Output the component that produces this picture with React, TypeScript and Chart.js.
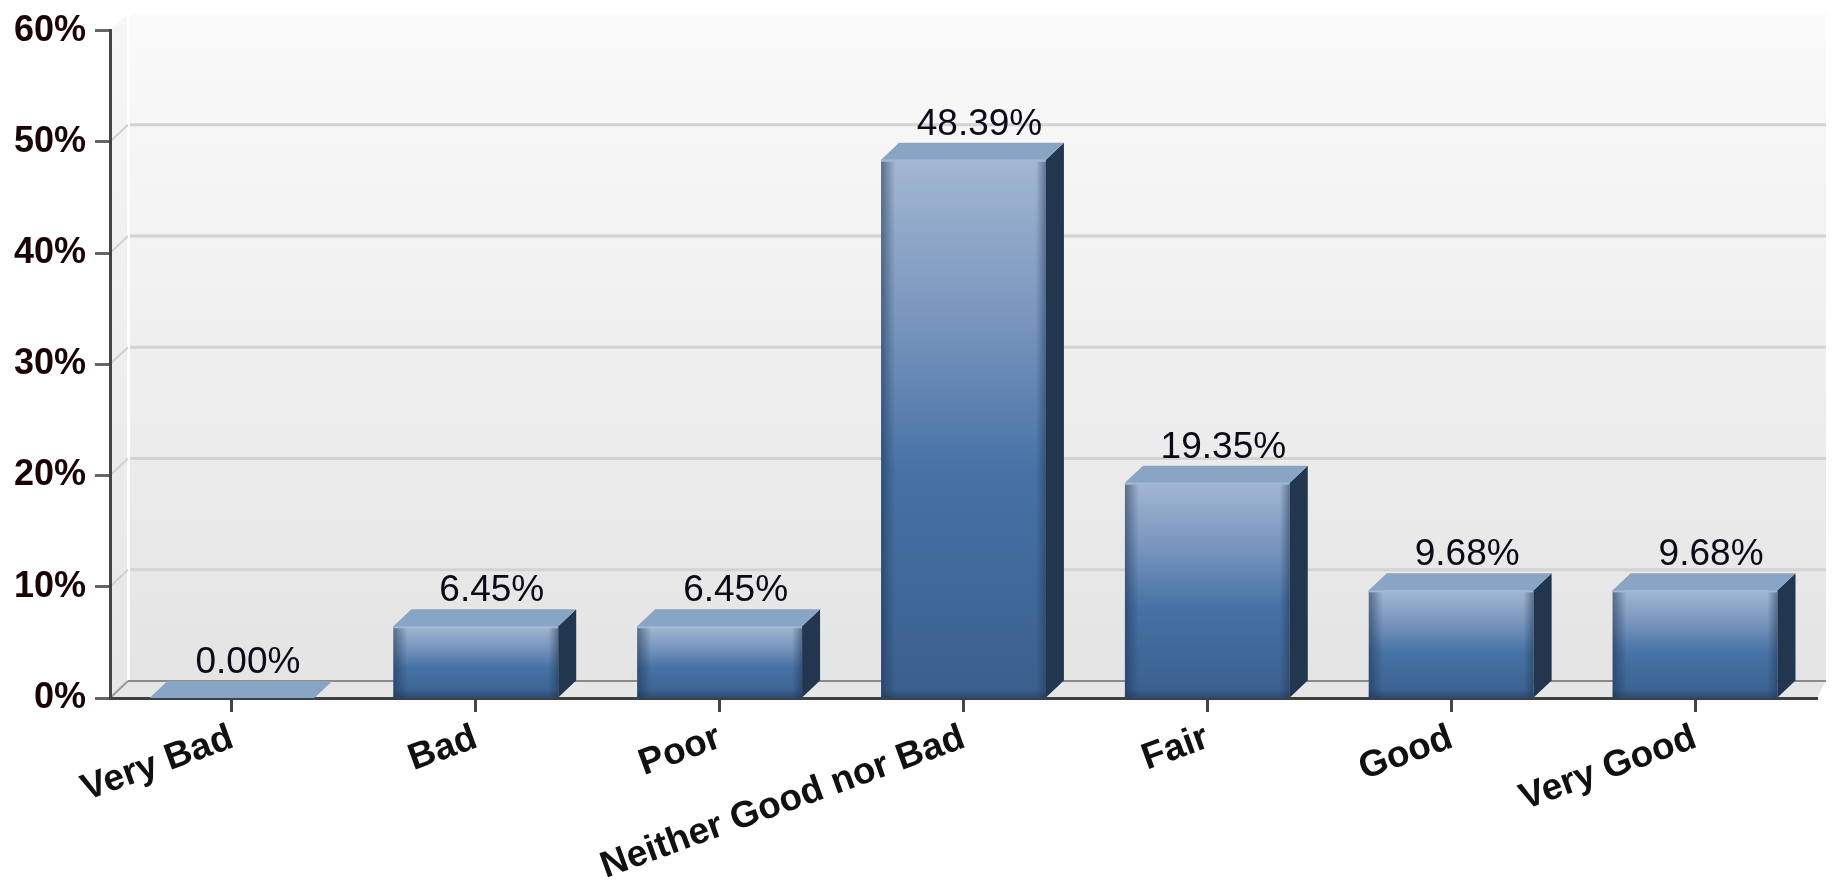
import React, { useEffect, useRef } from "react";
import { Chart, registerables } from "chart.js";

Chart.register(...registerables);

const categories = ["Very Bad", "Bad", "Poor", "Neither Good nor Bad", "Fair", "Good", "Very Good"];
const percentages = [0, 6.45, 6.45, 48.39, 19.35, 9.68, 9.68];
const valueLabels = ["0.00%", "6.45%", "6.45%", "48.39%", "19.35%", "9.68%", "9.68%"];
const yTickValues = [0, 10, 20, 30, 40, 50, 60];

const FONT = '"Liberation Sans", Arial, Helvetica, sans-serif';
const DX = 18;
const DY = 17;

const threeDPlugin = {
  id: "threeD",
  beforeDraw(chart: any) {
    const { ctx, chartArea } = chart;
    const { left, right, top, bottom } = chartArea;
    const yScale = chart.scales.y;
    ctx.save();
    // back wall
    const wallRight = Math.min(right + DX, 1826);
    const g = ctx.createLinearGradient(0, top - DY, 0, bottom - DY);
    g.addColorStop(0, "#fafafa");
    g.addColorStop(1, "#e4e4e4");
    ctx.fillStyle = g;
    ctx.fillRect(left + DX, top - DY, wallRight - left - DX, bottom - top);
    // side wall
    const sg = ctx.createLinearGradient(0, top, 0, bottom);
    sg.addColorStop(0, "#f6f6f6");
    sg.addColorStop(1, "#e6e6e6");
    ctx.fillStyle = sg;
    ctx.beginPath();
    ctx.moveTo(left, top);
    ctx.lineTo(left + DX, top - DY);
    ctx.lineTo(left + DX, bottom - DY);
    ctx.lineTo(left, bottom);
    ctx.closePath();
    ctx.fill();
    // floor
    ctx.fillStyle = "#e6e6e6";
    ctx.beginPath();
    ctx.moveTo(left, bottom);
    ctx.lineTo(left + DX, bottom - DY);
    ctx.lineTo(wallRight, bottom - DY);
    ctx.lineTo(right, bottom);
    ctx.closePath();
    ctx.fill();
    // white edge of wall
    ctx.fillStyle = "#ffffff";
    ctx.fillRect(left + DX - 1, top - DY, 3, bottom - top);
    // gridlines on back wall + side wall diagonals
    yTickValues.forEach((v) => {
      if (v === 0 || v === 60) return;
      const y = yScale.getPixelForValue(v);
      ctx.strokeStyle = "#d3d3d3";
      ctx.lineWidth = 3;
      ctx.beginPath();
      ctx.moveTo(left + DX + 2, y - DY);
      ctx.lineTo(wallRight, y - DY);
      ctx.stroke();
      ctx.strokeStyle = "#d0d0d0";
      ctx.lineWidth = 2;
      ctx.beginPath();
      ctx.moveTo(left, y);
      ctx.lineTo(left + DX, y - DY);
      ctx.stroke();
    });
    // floor back line
    ctx.strokeStyle = "#8a8a8a";
    ctx.lineWidth = 2;
    ctx.beginPath();
    ctx.moveTo(left + DX, bottom - DY);
    ctx.lineTo(wallRight, bottom - DY);
    ctx.stroke();
    ctx.strokeStyle = "#9a9a9a";
    ctx.beginPath();
    ctx.moveTo(left, bottom);
    ctx.lineTo(left + DX, bottom - DY);
    ctx.stroke();
    ctx.restore();
  },
  afterDatasetsDraw(chart: any) {
    const { ctx } = chart;
    const meta = chart.getDatasetMeta(0);
    ctx.save();
    meta.data.forEach((bar: any, i: number) => {
      const { x, y, base, width } = bar.getProps(["x", "y", "base", "width"], true);
      const l = x - width / 2;
      const r = x + width / 2;
      const h = base - y;
      if (h > 2) {
        // edge shading on front face
        const lg = ctx.createLinearGradient(l, 0, l + 14, 0);
        lg.addColorStop(0, "rgba(30,50,80,0.55)");
        lg.addColorStop(1, "rgba(30,50,80,0)");
        ctx.fillStyle = lg;
        ctx.fillRect(l, y, 14, h);
        const rg = ctx.createLinearGradient(r - 10, 0, r, 0);
        rg.addColorStop(0, "rgba(30,50,80,0)");
        rg.addColorStop(1, "rgba(30,50,80,0.5)");
        ctx.fillStyle = rg;
        ctx.fillRect(r - 10, y, 10, h);
        const bg = ctx.createLinearGradient(0, base - 8, 0, base);
        bg.addColorStop(0, "rgba(30,50,80,0)");
        bg.addColorStop(1, "rgba(30,50,80,0.45)");
        ctx.fillStyle = bg;
        ctx.fillRect(l, base - 8, width, 8);
        ctx.fillStyle = "#a3b8d3";
        ctx.fillRect(l, y, width, 2);
        // side face
        ctx.fillStyle = "#22374f";
        ctx.beginPath();
        ctx.moveTo(r, y);
        ctx.lineTo(r + DX, y - DY);
        ctx.lineTo(r + DX, base - DY);
        ctx.lineTo(r, base);
        ctx.closePath();
        ctx.fill();
      }
      // top face
      ctx.fillStyle = "#89a5c6";
      ctx.beginPath();
      ctx.moveTo(l, y);
      ctx.lineTo(l + DX, y - DY);
      ctx.lineTo(r + DX, y - DY);
      ctx.lineTo(r, y);
      ctx.closePath();
      ctx.fill();
      // value label
      ctx.fillStyle = "#0a0a18";
      ctx.font = `37px ${FONT}`;
      ctx.textAlign = "center";
      ctx.textBaseline = "alphabetic";
      ctx.fillText(valueLabels[i], x + 16, y - DY - 8);
    });
    ctx.restore();
  },
};

export default function App() {
  const canvasRef = useRef<HTMLCanvasElement | null>(null);

  useEffect(() => {
    if (!canvasRef.current) return;
    const chart = new Chart(canvasRef.current, {
      type: "bar",
      data: {
        labels: categories,
        datasets: [
          {
            data: percentages,
            barPercentage: 0.676,
            categoryPercentage: 1,
            borderWidth: 0,
            backgroundColor: (c: any) => {
              const ch = c.chart;
              if (!ch.chartArea || c.type !== "data") return "#4672a5";
              const ys = ch.scales.y;
              const top = ys.getPixelForValue(c.raw as number);
              const base = ys.getPixelForValue(0);
              if (base - top < 1) return "#4672a5";
              const g = ch.ctx.createLinearGradient(0, top, 0, base);
              g.addColorStop(0, "#a2b7d2");
              g.addColorStop(0.3, "#7895bd");
              g.addColorStop(0.58, "#4672a5");
              g.addColorStop(1, "#3a5f8d");
              return g;
            },
          },
        ],
      },
      options: {
        responsive: false,
        animation: false,
        devicePixelRatio: 1,
        layout: { padding: { top: 24, right: 15, left: 0, bottom: 0 } },
        plugins: { legend: { display: false }, tooltip: { enabled: false } },
        scales: {
          x: {
            afterFit: (s: any) => {
              s.height = 184;
            },
            ticks: {
              autoSkip: false,
              minRotation: 20,
              maxRotation: 20,
              padding: 4,
              color: "#111111",
              font: { family: FONT, size: 37, weight: "bold" },
            },
            grid: {
              offset: false,
              drawOnChartArea: false,
              drawTicks: true,
              tickLength: 14,
              tickColor: "#444444",
              tickWidth: 3,
            },
            border: { display: true, color: "#404040", width: 3 },
          },
          y: {
            min: 0,
            max: 60,
            afterFit: (s: any) => {
              s.width = 110;
            },
            afterBuildTicks: (s: any) => {
              s.ticks = yTickValues.map((v) => ({ value: v }));
            },
            ticks: {
              callback: (v: any) => `${v}%`,
              padding: 9,
              color: "#1a0505",
              font: { family: FONT, size: 36, weight: "bold" },
            },
            grid: {
              drawOnChartArea: false,
              drawTicks: true,
              tickLength: 15,
              tickColor: "#666666",
              tickWidth: 3,
            },
            border: { display: true, color: "#444444", width: 3 },
          },
        },
      },
      plugins: [threeDPlugin],
    });
    return () => chart.destroy();
  }, []);

  return (
    <div style={{ position: "fixed", left: 0, top: 0, width: 1832, height: 882, background: "#ffffff" }}>
      <canvas ref={canvasRef} width={1832} height={882} style={{ display: "block" }} />
    </div>
  );
}
